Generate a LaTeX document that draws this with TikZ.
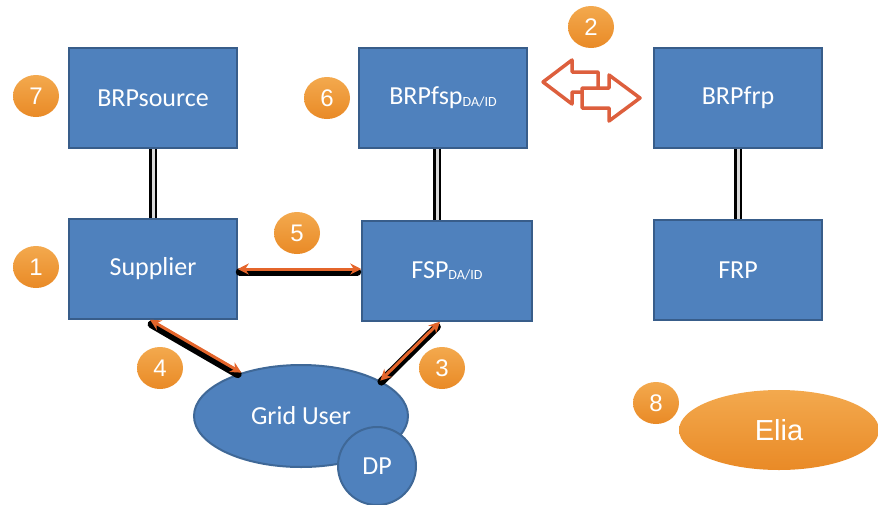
\documentclass[tikz,border=0pt]{standalone}
\usepackage{fontspec}
\setmainfont{Carlito}
\newfontfamily\numfont{Liberation Sans}
\usetikzlibrary{arrows.meta, positioning, shapes.geometric}
\usepackage{xcolor}
\definecolor{boxblue}{HTML}{4F81BD}
\definecolor{boxedge}{HTML}{385D8A}
\definecolor{blobedge}{HTML}{3F6897}
\definecolor{badgeorange}{HTML}{E98A26}
\definecolor{badgelight}{HTML}{F3A94E}
\definecolor{floworange}{HTML}{E4652B}
\definecolor{swapred}{HTML}{DD5F3D}
\newcommand{\dasub}[1]{\raisebox{-1.5pt}{\fontsize{14}{14}\selectfont #1}}

\begin{document}
\begin{tikzpicture}[
x=1pt, y=-1pt,
>={Stealth[length=11pt,width=11pt]},
box/.style={draw=boxedge, fill=boxblue, line width=1.5pt, minimum width=168pt, minimum height=100pt, text=white, font=\fontsize{26}{30}\selectfont},
blob/.style={draw=blobedge, fill=boxblue, line width=2pt, inner sep=0pt, text=white, font=\fontsize{26}{30}\selectfont},
badge/.style={ellipse, inner sep=0pt, minimum width=46pt, minimum height=42pt, top color=badgelight, bottom color=badgeorange, text=white, font=\numfont\fontsize{24}{28}\selectfont},
link/.style={line width=2.5pt, double=black!15, double distance=3pt},
flow/.style={<->, draw=floworange, line width=3pt, preaction={draw=black, arrows=-, line width=8pt, line cap=round, shorten <=3pt, shorten >=3pt, transform canvas={xshift=-1pt, yshift=-3pt}}},
swap/.style={draw=swapred, fill=white, line width=3.5pt, line join=round},
]
\useasboundingbox (0,0) rectangle (878,504);

% Boxes
\node[box] (source) at (153,98) {BRPsource};
\node[box] (supplier) at (153,269) {Supplier};
\node[box] (brpfsp) at (443,98) {BRPfsp\dasub{DA/ID}};
\node[box, minimum width=170pt] (fsp) at (447,271) {FSP\dasub{DA/ID}};
\node[box] (brpfrp) at (738,98) {BRPfrp};
\node[box] (frp) at (738,270) {FRP};

\node[blob, ellipse, minimum width=214pt, minimum height=102pt] (griduser) at (301,416) {Grid User};
\node[blob, circle, minimum size=78pt] (dp) at (377,466) {DP};
\node[ellipse, inner sep=0pt, minimum width=200pt, minimum height=80pt, top color=badgelight, bottom color=badgeorange, text=white, font=\numfont\fontsize{29}{34}\selectfont] (elia) at (779,430) {Elia};

% Links
\draw[link] (source) -- (supplier);
\draw[link] ([xshift=-6pt]brpfsp.south) -- ([xshift=-6pt]brpfsp.south |- fsp.north);
\draw[link] (brpfrp) -- (frp);

% Arrows
\draw[flow] (supplier.east) -- (supplier.east -| fsp.west);
\draw[flow] ([xshift=-3pt]supplier.south) -- (griduser.144);
\draw[flow] ([xshift=-7pt]fsp.south) -- (griduser.24);

\draw[swap] (543,82) -- (572,60) -- (572,72) -- (598,72) -- (598,92) -- (572,92) -- (572,104) -- cycle;
\draw[swap] (640,98) -- (609,75) -- (609,88) -- (582,88) -- (582,108) -- (609,108) -- (609,121) -- cycle;

% Numbers
\node[badge] (b1) at (36,267) {1};
\node[badge] (b2) at (591,27) {2};
\node[badge] (b3) at (442,368) {3};
\node[badge] (b4) at (160,368) {4};
\node[badge] (b5) at (297,233) {5};
\node[badge] (b6) at (327,98) {6};
\node[badge] (b7) at (36,96) {7};
\node[badge] (b8) at (656,403) {8};

\end{tikzpicture}
\end{document}
